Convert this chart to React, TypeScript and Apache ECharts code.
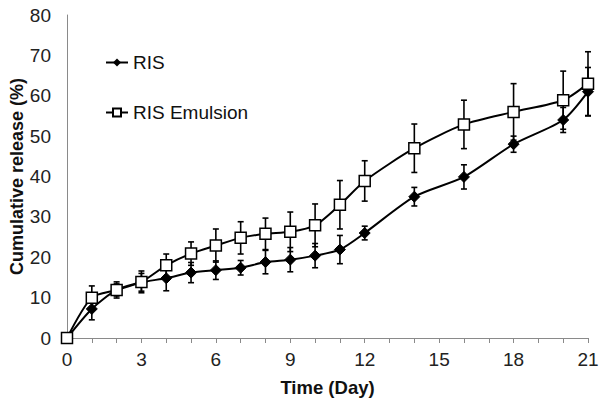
import React, { useEffect, useRef } from "react";
import * as echarts from "echarts";

const days = [0, 1, 2, 3, 4, 5, 6, 7, 8, 9, 10, 11, 12, 14, 16, 18, 20, 21];
const risValues = [0, 7.2, 11.9, 13.8, 14.8, 16.2, 16.8, 17.4, 18.8, 19.4, 20.4, 21.9, 26.0, 35.0, 39.9, 48.0, 54.0, 61.0];
const risErrors = [0, 2.7, 1.5, 2.2, 3.1, 2.5, 2.3, 1.8, 2.9, 3.0, 3.0, 3.5, 1.7, 2.3, 3.0, 2.0, 3.1, 6.0];
const emuValues = [0, 10.0, 11.9, 13.9, 18.0, 20.9, 22.9, 24.8, 25.8, 26.3, 27.9, 33.0, 38.9, 47.0, 52.9, 56.0, 58.9, 63.0];
const emuErrors = [0, 2.9, 2.0, 2.7, 2.8, 2.9, 4.1, 4.0, 3.9, 4.9, 5.3, 6.0, 5.0, 6.0, 6.0, 7.0, 7.2, 7.9];
const seriesNames = ["RIS", "RIS Emulsion"];

const FONT = "Liberation Sans, Arial, sans-serif";

function errorData(vals: number[], errs: number[]) {
  return days.map((d, i) => [d, vals[i] - errs[i], vals[i] + errs[i]]);
}

function renderError(params: any, api: any) {
  const x = api.value(0);
  const lo = api.coord([x, api.value(1)]);
  const hi = api.coord([x, api.value(2)]);
  const cap = 3;
  const style = { stroke: "#000", lineWidth: 1.6 };
  return {
    type: "group",
    children: [
      { type: "line", shape: { x1: lo[0], y1: lo[1], x2: hi[0], y2: hi[1] }, style },
      { type: "line", shape: { x1: lo[0] - cap, y1: lo[1], x2: lo[0] + cap, y2: lo[1] }, style },
      { type: "line", shape: { x1: hi[0] - cap, y1: hi[1], x2: hi[0] + cap, y2: hi[1] }, style },
    ],
  };
}

export default function App() {
  const ref = useRef<HTMLDivElement>(null);
  useEffect(() => {
    document.body.style.margin = "0";
    if (!ref.current) return;
    const chart = echarts.init(ref.current, null, { renderer: "svg" });
    chart.setOption({
      animation: false,
      backgroundColor: "#fff",
      textStyle: { fontFamily: FONT },
      grid: { left: 67, right: 16, top: 15, bottom: 64, containLabel: false, outerBoundsMode: "none" },
      legend: {
        orient: "vertical",
        left: 100,
        top: 48,
        itemGap: 31,
        itemWidth: 22,
        itemHeight: 10,
        textStyle: { fontSize: 19, color: "#111", fontFamily: FONT },
        data: seriesNames,
      },
      xAxis: {
        type: "value",
        min: 0,
        max: 21,
        interval: 1,
        name: "Time (Day)",
        nameLocation: "middle",
        nameGap: 40,
        nameMoveOverlap: false,
        nameTextStyle: { fontSize: 18.5, fontWeight: "bold", color: "#111", fontFamily: FONT },
        axisLine: { lineStyle: { color: "#8a8a8a", width: 1 } },
        axisTick: { show: true, length: 5, lineStyle: { color: "#8a8a8a" } },
        axisLabel: {
          fontSize: 19,
          color: "#222",
          margin: 12,
          formatter: (v: number) => (v % 3 === 0 ? String(v) : ""),
        },
        splitLine: { show: false },
      },
      yAxis: {
        type: "value",
        min: 0,
        max: 80,
        interval: 10,
        name: "Cumulative release (%)",
        nameLocation: "middle",
        nameGap: 41,
        nameMoveOverlap: false,
        nameTextStyle: { fontSize: 18, fontWeight: "bold", color: "#111", fontFamily: FONT },
        axisLine: { show: true, lineStyle: { color: "#8a8a8a", width: 1 } },
        axisTick: { show: false },
        axisLabel: { fontSize: 19, color: "#222", margin: 16 },
        splitLine: { show: false },
      },
      series: [
        {
          type: "custom",
          name: "RIS err",
          renderItem: renderError,
          data: errorData(risValues, risErrors),
          z: 1,
          silent: true,
        },
        {
          type: "custom",
          name: "Emu err",
          renderItem: renderError,
          data: errorData(emuValues, emuErrors),
          z: 1,
          silent: true,
        },
        {
          type: "line",
          name: seriesNames[0],
          data: days.map((d, i) => [d, risValues[i]]),
          smooth: 0.25,
          symbol: "diamond",
          symbolSize: 11,
          itemStyle: { color: "#000", borderColor: "#000" },
          lineStyle: { color: "#000", width: 2 },
          z: 3,
        },
        {
          type: "line",
          name: seriesNames[1],
          data: days.map((d, i) => [d, emuValues[i]]),
          smooth: 0.25,
          symbol: "rect",
          symbolSize: 11,
          itemStyle: { color: "#fff", borderColor: "#000", borderWidth: 1.5 },
          lineStyle: { color: "#000", width: 2 },
          z: 4,
        },
      ],
    });
    return () => chart.dispose();
  }, []);
  return <div ref={ref} style={{ width: 604, height: 402 }} />;
}
